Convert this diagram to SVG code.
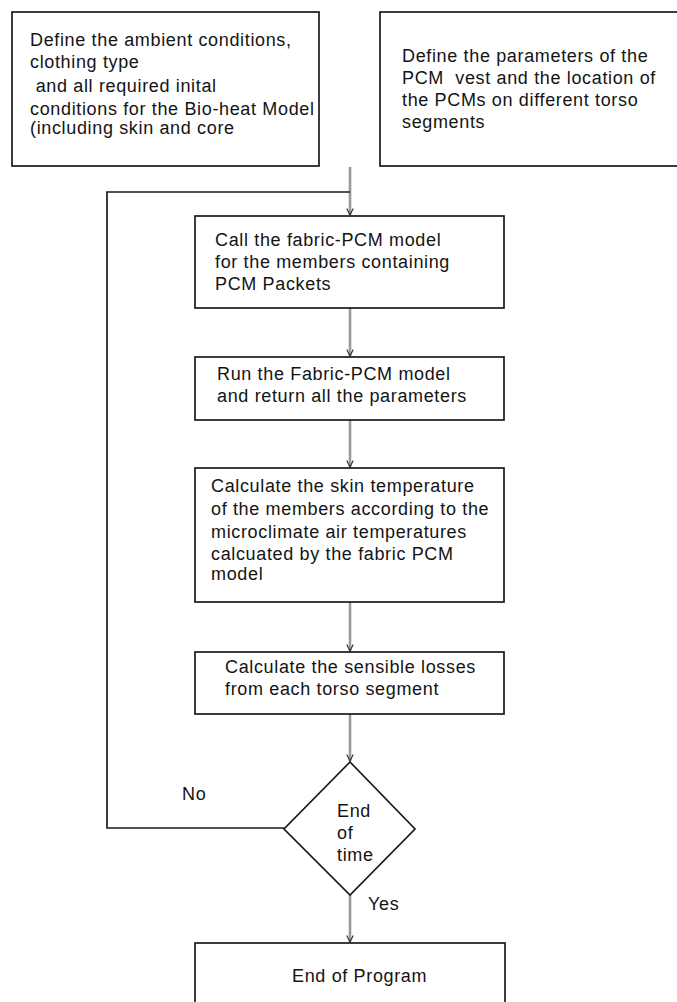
<svg xmlns="http://www.w3.org/2000/svg" width="677" height="1002" viewBox="0 0 677 1002">
<style>
.box{fill:#fff;stroke:#1a1a1a;stroke-width:1.7}
.t{font-family:"Liberation Sans",Arial,sans-serif;font-size:18px;letter-spacing:0.65px;fill:#141414}
.c{fill:none;stroke:#9a9a9a;stroke-width:2.6}
.loop{fill:none;stroke:#1a1a1a;stroke-width:1.7}
</style>
<defs>
<marker id="arr" viewBox="0 0 10 10" refX="9" refY="5" markerWidth="8" markerHeight="8" markerUnits="userSpaceOnUse" orient="auto">
<path d="M1,1 L9,5 L1,9" fill="none" stroke="#333" stroke-width="1.5"/>
</marker>
</defs>
<rect width="677" height="1002" fill="#fff"/>
<g id="connectors">
<path class="c" d="M350,167 V215" marker-end="url(#arr)"/>
<path class="loop" d="M284,828 H107 V192 H350"/>
<path class="c" d="M350,308 V356" marker-end="url(#arr)"/>
<path class="c" d="M350,420 V467" marker-end="url(#arr)"/>
<path class="c" d="M350,602 V651" marker-end="url(#arr)"/>
<path class="c" d="M350,714 V761" marker-end="url(#arr)"/>
<path class="c" d="M350,895 V942" marker-end="url(#arr)"/>
<text class="t" x="182" y="800">No</text>
<text class="t" x="368" y="910">Yes</text>
</g>
<g id="n1">
<rect class="box" x="12" y="12" width="307" height="154"/>
<text class="t" x="30" y="46">Define the ambient conditions,</text>
<text class="t" x="30" y="68">clothing type</text>
<text class="t" x="30" y="92" xml:space="preserve"> and all required inital</text>
<text class="t" x="30" y="115">conditions for the Bio-heat Model</text>
<text class="t" x="30" y="134">(including skin and core</text>
</g>
<g id="n2">
<rect class="box" x="380" y="12" width="310" height="154"/>
<text class="t" x="402" y="62">Define the parameters of the</text>
<text class="t" x="402" y="84" xml:space="preserve">PCM  vest and the location of</text>
<text class="t" x="402" y="106">the PCMs on different torso</text>
<text class="t" x="402" y="128">segments</text>
</g>
<g id="n3">
<rect class="box" x="195" y="216" width="309" height="92"/>
<text class="t" x="215" y="246">Call the fabric-PCM model</text>
<text class="t" x="215" y="268">for the members containing</text>
<text class="t" x="215" y="290">PCM Packets</text>
</g>
<g id="n4">
<rect class="box" x="195" y="357" width="309" height="63"/>
<text class="t" x="217" y="380">Run the Fabric-PCM model</text>
<text class="t" x="217" y="402">and return all the parameters</text>
</g>
<g id="n5">
<rect class="box" x="195" y="468" width="309" height="134"/>
<text class="t" x="211" y="492">Calculate the skin temperature</text>
<text class="t" x="211" y="515">of the members according to the</text>
<text class="t" x="211" y="538">microclimate air temperatures</text>
<text class="t" x="211" y="560">calcuated by the fabric PCM</text>
<text class="t" x="211" y="580">model</text>
</g>
<g id="n6">
<rect class="box" x="195" y="652" width="309" height="62"/>
<text class="t" x="225" y="673">Calculate the sensible losses</text>
<text class="t" x="225" y="695">from each torso segment</text>
</g>
<g id="n7">
<polygon class="box" points="350,762 415,829 350,895 284,829"/>
<text class="t" x="337" y="817">End</text>
<text class="t" x="337" y="839">of</text>
<text class="t" x="337" y="861">time</text>
</g>
<g id="n8">
<rect class="box" x="195" y="943" width="310" height="80"/>
<text class="t" x="292" y="982">End of Program</text>
</g>
</svg>
